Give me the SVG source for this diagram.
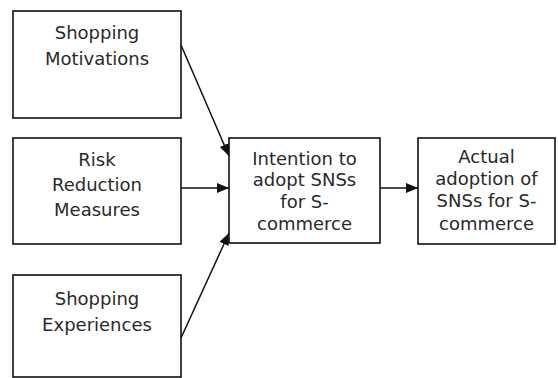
<svg xmlns="http://www.w3.org/2000/svg" width="558" height="378" viewBox="0 0 558 378">
<style>
.box{fill:#fff;stroke:#111;stroke-width:1.6}
.t{font-family:"DejaVu Sans",sans-serif;font-size:18px;fill:#2a2a2a;text-anchor:middle}
.c{stroke:#111;stroke-width:1.5;fill:none;marker-end:url(#ah)}
</style>
<defs>
<marker id="ah" viewBox="0 0 12 10" refX="12" refY="5" markerWidth="12" markerHeight="10" markerUnits="userSpaceOnUse" orient="auto">
<path d="M0,0 L12,5 L0,10 Z" fill="#111"/>
</marker>
</defs>
<rect width="558" height="378" fill="#fff"/>
<g id="n1"><rect class="box" x="13" y="11" width="168" height="107"/>
<text class="t" x="97" y="39">Shopping</text><text class="t" x="97" y="65">Motivations</text></g>
<g id="n2"><rect class="box" x="13" y="138" width="168" height="106"/>
<text class="t" x="97" y="166">Risk</text><text class="t" x="97" y="191">Reduction</text><text class="t" x="97" y="216">Measures</text></g>
<g id="n3"><rect class="box" x="13" y="275" width="168" height="102"/>
<text class="t" x="97" y="305">Shopping</text><text class="t" x="97" y="331">Experiences</text></g>
<g id="n4"><rect class="box" x="229" y="138" width="151" height="105"/>
<text class="t" x="304.5" y="165">Intention to</text><text class="t" x="304.5" y="186">adopt SNSs</text><text class="t" x="304.5" y="208">for S-</text><text class="t" x="304.5" y="230">commerce</text></g>
<g id="n5"><rect class="box" x="418" y="138" width="137" height="106"/>
<text class="t" x="486.5" y="163">Actual</text><text class="t" x="486.5" y="185">adoption of</text><text class="t" x="486.5" y="207">SNSs for S-</text><text class="t" x="486.5" y="230">commerce</text></g>
<g id="connectors">
<line class="c" x1="181" y1="45" x2="229" y2="156"/>
<line class="c" x1="181" y1="188" x2="229" y2="188"/>
<line class="c" x1="181" y1="338" x2="229" y2="233"/>
<line class="c" x1="380" y1="188" x2="418" y2="188"/>
</g>
</svg>
